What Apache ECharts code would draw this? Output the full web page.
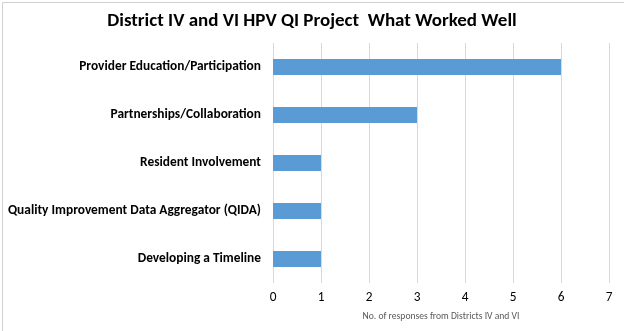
<!DOCTYPE html>
<html><head><meta charset="utf-8">
<script src="https://cdn.jsdelivr.net/npm/echarts@6/dist/echarts.min.js"></script>
<style>html,body{margin:0;padding:0;background:#fff}#c{width:624px;height:331px}</style>
</head><body><div id="c"></div>
<script>
const categories = ["Provider Education/Participation","Partnerships/Collaboration","Resident Involvement","Quality Improvement Data Aggregator (QIDA)","Developing a Timeline"];
const values = [6,3,1,1,1];
const xTicks = [0,1,2,3,4,5,6,7];
const titleText = "District IV and VI HPV QI Project  What Worked Well";
const xAxisName = "No. of responses from Districts IV and VI";

const chart = echarts.init(document.getElementById('c'), null, {renderer:'canvas'});
const font = "Calibri, Carlito, 'Open Sans', sans-serif";
chart.setOption({
  animation:false,
  backgroundColor:'#fff',
  title:{text:titleText,left:'center',top:7,textStyle:{fontFamily:font,fontSize:19,fontWeight:'bold',color:'#000'}},
  graphic:[{type:'rect',left:0,top:0,shape:{x:0.5,y:0.5,width:623,height:330},style:{fill:'none',stroke:'#d0d0d0',lineWidth:1},silent:true}],
  grid:{left:273,right:15,top:43,bottom:48,containLabel:false},
  xAxis:{type:'value',min:xTicks[0],max:xTicks[xTicks.length-1],interval:1,
    name:xAxisName,nameLocation:'middle',nameGap:29,
    nameTextStyle:{fontFamily:font,fontSize:9.6,color:'#595959'},
    axisLine:{show:false},axisTick:{show:false},
    axisLabel:{fontFamily:font,fontSize:13.3,color:'#000',margin:8},
    splitLine:{show:true,lineStyle:{color:'#d9d9d9',width:1}}},
  yAxis:{type:'category',data:categories,inverse:true,
    axisLine:{show:false},axisTick:{show:false},
    axisLabel:{fontFamily:font,fontSize:13.4,fontWeight:'bold',color:'#000',margin:12}},
  series:[{type:'bar',data:values,barWidth:16,itemStyle:{color:'#5b9bd5'}}]
});
</script></body></html>
